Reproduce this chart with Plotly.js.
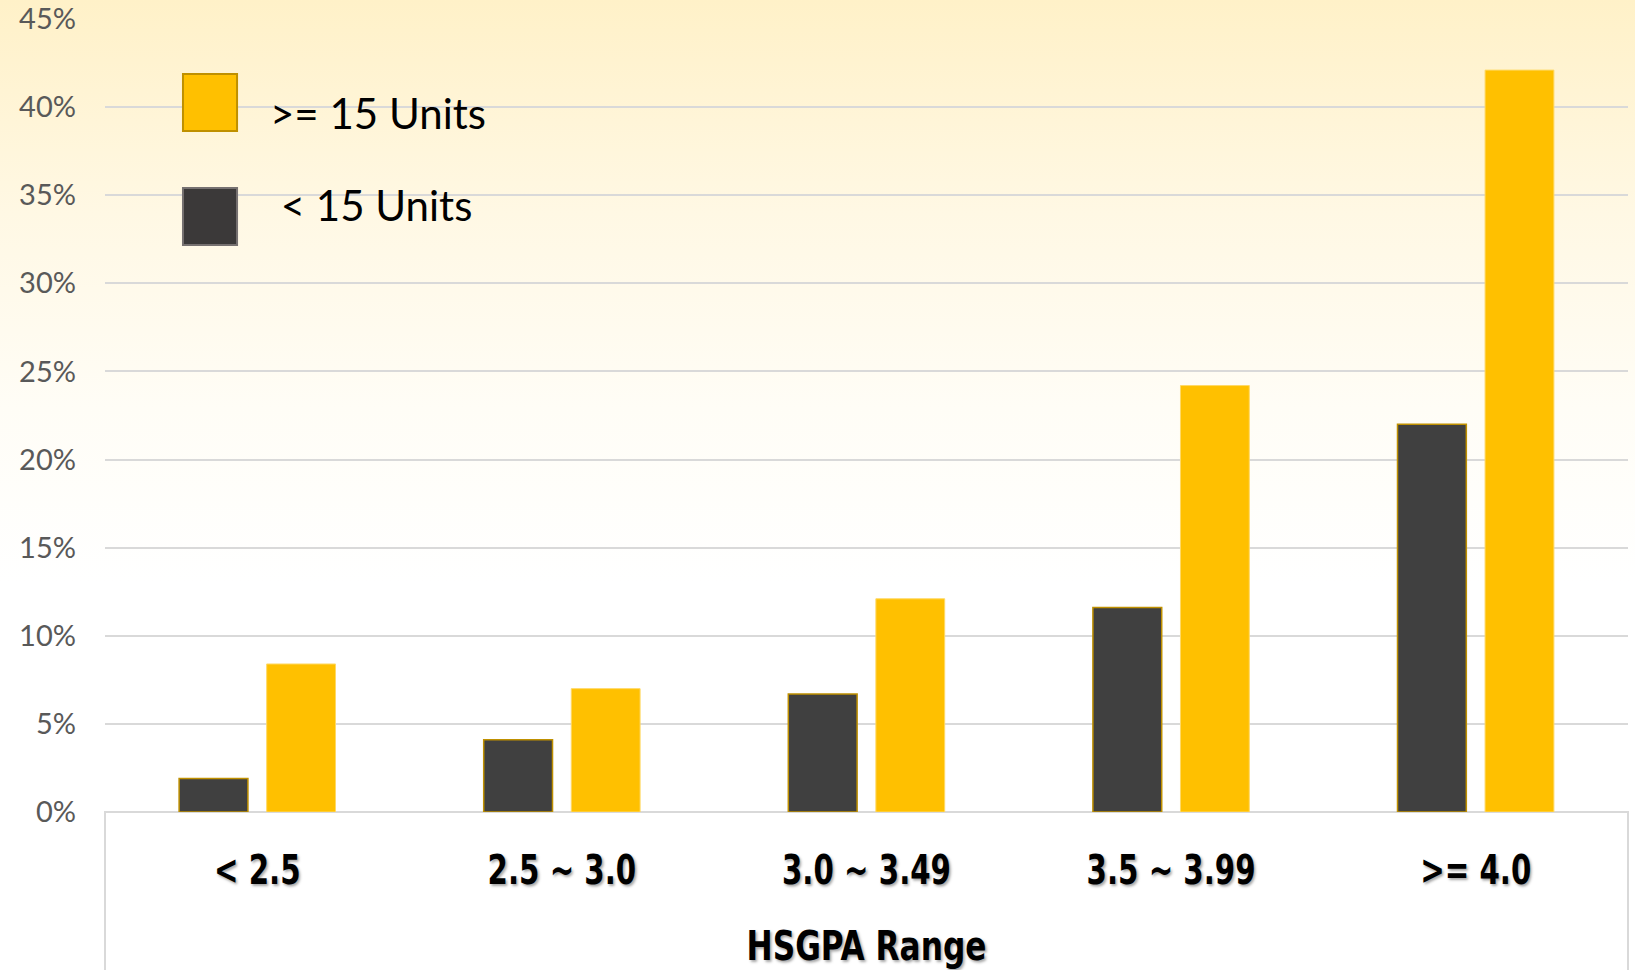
<!DOCTYPE html>
<html>
<head>
<meta charset="utf-8">
<script src="https://cdn.plot.ly/plotly-3.0.1.min.js"></script>
<style>
  html, body { margin: 0; padding: 0; background: #fff; }
  #myDiv {
    width: 1635px; height: 970px;
    background: linear-gradient(to bottom, #FFF1C8 0%, #FFF8E4 22%, #FFFDF6 42%, #FFFFFF 60%, #FFFFFF 100%);
  }
</style>
</head>
<body>
<div id="myDiv"></div>
<script>
var categories = ["< 2.5", "2.5 ~ 3.0", "3.0 ~ 3.49", "3.5 ~ 3.99", ">= 4.0"];
var seriesNames = [">= 15 Units", " < 15 Units"];
var over15Vals = [8.4, 7.0, 12.1, 24.2, 42.1];
var under15Vals = [1.9, 4.1, 6.7, 11.6, 22.0];
var yTicks = [0, 5, 10, 15, 20, 25, 30, 35, 40, 45];

var yellow = "#FFC000";
var dark = "#404040";

var under15 = {
    x: categories,
    y: under15Vals,
    name: seriesNames[1],
    type: "bar",
    marker: {
        color: dark,
        line: { color: "#BF9000", width: 1.5 }
    },
    hoverinfo: "x+y"
};

var over15 = {
    x: categories,
    y: over15Vals,
    name: seriesNames[0],
    type: "bar",
    marker: {
        color: yellow,
        line: { color: "#FFD966", width: 1 }
    },
    hoverinfo: "x+y"
};

var data = [under15, over15];

// hand-made legend, big square swatches like the original
var legendShapes = [{
    type: "rect", xref: "paper", yref: "paper",
    x0: 0.0512, x1: 0.0867, y0: 0.8588, y1: 0.9306,
    fillcolor: yellow, line: { color: "#BF9000", width: 2 }
}, {
    type: "rect", xref: "paper", yref: "paper",
    x0: 0.0512, x1: 0.0867, y0: 0.715, y1: 0.7869,
    fillcolor: "#3B3939", line: { color: "#767171", width: 2 }
}];

// white box under the axis
var axisBox = {
    type: "rect", xref: "paper", yref: "paper",
    x0: 0, x1: 1, y0: -0.25, y1: 0,
    fillcolor: "#FFFFFF", line: { color: "#D9D9D9", width: 2 },
    layer: "below"
};

var legendFont = { family: "Lato, 'Open Sans', sans-serif", size: 42, color: "#000000" };
var legendText = [{
    xref: "paper", yref: "paper",
    x: 0.107, y: 0.882, xanchor: "left", yanchor: "middle",
    text: seriesNames[0], showarrow: false,
    font: legendFont
}, {
    xref: "paper", yref: "paper",
    x: 0.107, y: 0.765, xanchor: "left", yanchor: "middle",
    text: "\u00a0" + seriesNames[1].trim(), showarrow: false,
    font: legendFont
}];

var boldFont = {
    family: "'DejaVu Sans Condensed', 'Liberation Sans Narrow', sans-serif",
    size: 41, color: "#000000", weight: "bold",
    shadow: "2px 2px 3px rgba(0,0,0,0.35)"
};

var layout = {
    width: 1635,
    height: 970,
    paper_bgcolor: "rgba(0,0,0,0)",
    plot_bgcolor: "rgba(0,0,0,0)",
    margin: { l: 105, r: 7, t: 19, b: 158 },
    showlegend: false,
    barmode: "group",
    bargap: 0.425,
    bargroupgap: 0.214,
    xaxis: {
        type: "category",
        showgrid: false,
        zeroline: false,
        showline: false,
        ticks: "",
        ticklabelstandoff: 30,
        tickfont: boldFont,
        title: {
            text: "HSGPA Range",
            standoff: 45,
            font: boldFont
        }
    },
    yaxis: {
        range: [0, 45],
        tickvals: yTicks,
        ticktext: yTicks.map(function(v) { return v + "%"; }),
        showgrid: true,
        gridcolor: "#D9D9D9",
        gridwidth: 2,
        zeroline: false,
        showline: false,
        ticks: "",
        ticklabelstandoff: 28,
        tickfont: { family: "Lato, 'Open Sans', sans-serif", size: 29, color: "#595959" }
    },
    shapes: [axisBox].concat(legendShapes),
    annotations: legendText
};

// squeeze the bold labels, the original uses a narrow face
var squeeze = function(sel, f) {
    document.querySelectorAll(sel).forEach(function(t) {
        var w = t.getComputedTextLength();
        t.setAttribute("textLength", w * f);
        t.setAttribute("lengthAdjust", "spacingAndGlyphs");
    });
};

Plotly.newPlot("myDiv", data, layout, { displayModeBar: false, staticPlot: true }).then(function() {
    var probe = null;
    document.querySelectorAll(".xtick text").forEach(function(t) {
        if (t.textContent === "3.0 ~ 3.49") probe = t.getComputedTextLength();
    });
    squeeze(".xtick text", probe ? 169 / probe : 0.8);
    document.querySelectorAll(".xtitle").forEach(function(t) {
        t.setAttribute("textLength", 240);
        t.setAttribute("lengthAdjust", "spacingAndGlyphs");
    });
});
</script>
</body>
</html>
